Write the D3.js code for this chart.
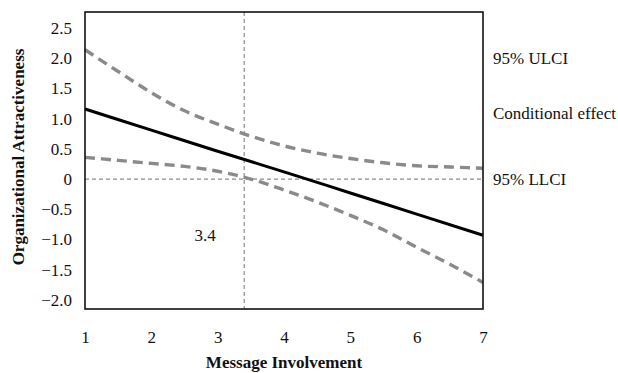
<!DOCTYPE html>
<html>
<head>
<meta charset="utf-8">
<script src="https://cdn.jsdelivr.net/npm/d3@7/dist/d3.min.js"></script>
<style>
  html, body { margin:0; padding:0; background:#fff; }
  svg { display:block; font-family:"Liberation Serif","DejaVu Serif",serif; }
</style>
</head>
<body>
<svg id="chart" width="618" height="373"></svg>
<script>
// Conditional effect of message involvement.
var X_TICKS = [1, 2, 3, 4, 5, 6, 7];
var Y_TICKS = [2.5, 2.0, 1.5, 1.0, 0.5, 0, -0.5, -1.0, -1.5, -2.0];

// conditional effect, sampled at each integer x
var EFFECT = [1.16, 0.81, 0.46, 0.12, -0.23, -0.58, -0.93];

// confidence band, sampled every half step
var CI_X  = [1, 1.5, 2, 2.5, 3, 3.5, 4, 4.5, 5, 5.5, 6, 6.5, 7];
var ULCI  = [2.14, 1.78, 1.43, 1.13, 0.91, 0.71, 0.55, 0.43, 0.34, 0.27, 0.22, 0.20, 0.18];
var LLCI  = [0.36, 0.31, 0.26, 0.21, 0.13, 0.00, -0.18, -0.38, -0.60, -0.84, -1.13, -1.41, -1.71];

var JN_POINT = 3.4;   // Johnson-Neyman point
var LABELS = { ulci:'95% ULCI', eff:'Conditional effect', llci:'95% LLCI' };

(function(){
'use strict';
var svg = d3.select('#chart');
var M = { left:85, right:483, top:12, bottom:309 };

var x = d3.scaleLinear([1, 7], [M.left, M.right]);
var y = d3.scaleLinear([-2.15, 2.765], [M.bottom, M.top]);

var fmtY = function(d){ return d === 0 ? '0' : d3.format('.1f')(d).replace('-', '\u2212'); };

/* ------------------------------------------------------------------ axes */
var gy = svg.append('g').attr('transform', 'translate(' + M.left + ',0)')
    .call(d3.axisLeft(y).tickValues(Y_TICKS).tickFormat(fmtY).tickSize(0).tickPadding(13));
var gx = svg.append('g').attr('transform', 'translate(0,' + M.bottom + ')')
    .call(d3.axisBottom(x).tickValues(X_TICKS).tickFormat(d3.format('d')).tickSize(0).tickPadding(22));
[gy, gx].forEach(function(g){
    // d3 puts sans-serif 10px on the group; the figure uses Times throughout
    g.attr('font-family', null).attr('font-size', 17);
    g.select('.domain').remove();
    g.selectAll('text').attr('fill', '#111');
});

// reference lines: zero effect and the J-N point
var ref = svg.append('g').attr('stroke', '#8c8c8c').attr('stroke-width', 1.2)
    .attr('stroke-dasharray', '4,3');
ref.append('line').attr('x1', M.left).attr('x2', M.right).attr('y1', y(0)).attr('y2', y(0));
ref.append('line').attr('x1', x(JN_POINT)).attr('x2', x(JN_POINT)).attr('y1', M.top).attr('y2', M.bottom);

/* ---------------------------------------------------------------- series */
var band = d3.line().x(function(d){ return x(d[0]); }).y(function(d){ return y(d[1]); })
    .curve(d3.curveMonotoneX);

[ULCI, LLCI].forEach(function(vals){
    svg.append('path').datum(d3.zip(CI_X, vals)).attr('d', band)
        .attr('fill', 'none').attr('stroke', '#8a8a8a').attr('stroke-width', 3.4)
        .attr('stroke-dasharray', '10,6');
});

svg.append('path').datum(d3.zip(X_TICKS, EFFECT)).attr('d', band)
    .attr('fill', 'none').attr('stroke', '#000').attr('stroke-width', 3);

// frame drawn last so the lines tuck under it
svg.append('rect').attr('x', M.left).attr('y', M.top)
    .attr('width', M.right - M.left).attr('height', M.bottom - M.top)
    .attr('fill', 'none').attr('stroke', '#111').attr('stroke-width', 1.6);

/* ---------------------------------------------------------------- labels */
var txt = function(s, px, py, opts){
    var t = svg.append('text').attr('x', px).attr('y', py).attr('font-size', 17)
        .attr('fill', '#111').text(s);
    if (opts) Object.keys(opts).forEach(function(k){ t.attr(k, opts[k]); });
    return t;
};

txt(JN_POINT.toFixed(1), x(JN_POINT) - 39, y(-0.93), { 'text-anchor':'middle', dy:'0.35em' });

txt(LABELS.ulci, 493, y(2.0), { dy:'0.35em' });
txt(LABELS.eff,  493, y(1.1), { dy:'0.35em' });
txt(LABELS.llci, 493, y(0),   { dy:'0.35em' });

txt('Message Involvement', (M.left + M.right) / 2, 368,
    { 'text-anchor':'middle', 'font-weight':'bold' });
txt('Organizational Attractiveness', 0, 0,
    { 'text-anchor':'middle', 'font-weight':'bold',
      transform:'translate(24,157) rotate(-90)' });
})();
</script>
</body>
</html>
